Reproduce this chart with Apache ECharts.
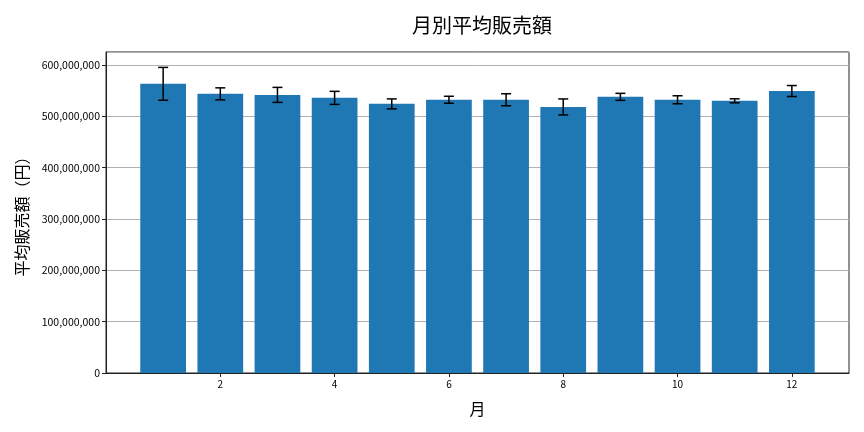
<!DOCTYPE html>
<html>
<head>
<meta charset="utf-8">
<script src="https://cdn.jsdelivr.net/npm/echarts@6/dist/echarts.min.js"></script>
<style>
  html, body { margin: 0; padding: 0; background: #fff; }
  #chart { width: 864px; height: 432px; }
</style>
</head>
<body>
<div id="chart"></div>
<script>
// 月 (1..12)
const months = [1, 2, 3, 4, 5, 6, 7, 8, 9, 10, 11, 12];
// 平均販売額（円）
const avgSales = [563e6, 543.5e6, 541.5e6, 535.7e6, 524e6, 532e6, 532e6, 518e6, 537.7e6, 532e6, 530e6, 549e6];
// 誤差（標準偏差）
const errSales = [32e6, 11.7e6, 14.6e6, 12.7e6, 9.7e6, 6.8e6, 11.7e6, 15.6e6, 6.8e6, 7.8e6, 3.9e6, 10.7e6];
const xTickLabels = [2, 4, 6, 8, 10, 12];

const FONT = '"Noto Sans CJK JP", "Noto Sans", sans-serif';

const chartDom = document.getElementById('chart');
let chart = echarts.getInstanceByDom(chartDom);
if (!chart) {
    chart = echarts.init(chartDom);
}

const barData = months.map((m, i) => [m, avgSales[i]]);
const errData = months.map((m, i) => [m, avgSales[i] - errSales[i], avgSales[i] + errSales[i]]);

const option = {
    animation: false,
    backgroundColor: '#fff',
    title: {
        text: '月別平均販売額',
        left: 477,
        textAlign: 'center',
        top: 10,
        textStyle: { fontFamily: FONT, fontSize: 20, fontWeight: 'normal', color: '#000' }
    },
    grid: {
        left: 106, right: 15, top: 52, bottom: 59,
        show: true, borderColor: '#222', borderWidth: 1, backgroundColor: 'transparent'
    },
    xAxis: {
        type: 'value',
        min: 0, max: 13, interval: 2,
        name: '月',
        nameLocation: 'middle',
        nameGap: 28,
        nameTextStyle: { fontFamily: FONT, fontSize: 16, color: '#000' },
        axisLine: { show: true, lineStyle: { color: '#222', width: 1 } },
        axisTick: { show: true, length: 4, lineStyle: { color: '#222' } },
        axisLabel: {
            fontFamily: FONT, fontSize: 10, color: '#000', margin: 6,
            showMinLabel: false, showMaxLabel: false,
            formatter: v => (xTickLabels.indexOf(v) >= 0 ? String(v) : '')
        },
        splitLine: { show: false }
    },
    yAxis: {
        type: 'value',
        min: 0, max: 625e6, interval: 100e6,
        name: '平均販売額（円）',
        nameLocation: 'middle',
        nameGap: 76,
        nameRotate: 90,
        nameTextStyle: { fontFamily: FONT, fontSize: 16, color: '#000' },
        axisLine: { show: true, lineStyle: { color: '#222', width: 1 } },
        axisTick: { show: true, length: 4, lineStyle: { color: '#222' } },
        axisLabel: {
            fontFamily: FONT, fontSize: 10.5, color: '#000', margin: 6,
            showMaxLabel: false,
            formatter: v => (v % 100e6 === 0 ? v.toLocaleString('en-US') : '')
        },
        splitLine: { show: true, lineStyle: { color: '#b0b0b0', width: 1 } }
    },
    series: [
        {
            type: 'custom',
            name: 'bars',
            data: barData,
            encode: { x: 0, y: 1 },
            renderItem: function (params, api) {
                const x = api.value(0);
                const y = api.value(1);
                const top = api.coord([x, y]);
                const base = api.coord([x, 0]);
                const w = api.size([0.8, 0])[0];
                return {
                    type: 'rect',
                    shape: { x: top[0] - w / 2, y: top[1], width: w, height: base[1] - top[1] },
                    style: { fill: '#1f77b4' }
                };
            },
            z: 2
        },
        {
            type: 'custom',
            name: 'err',
            data: errData,
            encode: { x: 0, y: [1, 2] },
            renderItem: function (params, api) {
                const x = api.value(0);
                const lo = api.coord([x, api.value(1)]);
                const hi = api.coord([x, api.value(2)]);
                const cap = 5;
                const st = { stroke: '#000', lineWidth: 1.5 };
                return {
                    type: 'group',
                    children: [
                        { type: 'line', shape: { x1: lo[0], y1: lo[1], x2: hi[0], y2: hi[1] }, style: st },
                        { type: 'line', shape: { x1: hi[0] - cap, y1: hi[1], x2: hi[0] + cap, y2: hi[1] }, style: st },
                        { type: 'line', shape: { x1: lo[0] - cap, y1: lo[1], x2: lo[0] + cap, y2: lo[1] }, style: st }
                    ]
                };
            },
            z: 3
        }
    ]
};

chart.setOption(option);
window.addEventListener('resize', () => {
    chart.resize();
});
</script>
</body>
</html>
